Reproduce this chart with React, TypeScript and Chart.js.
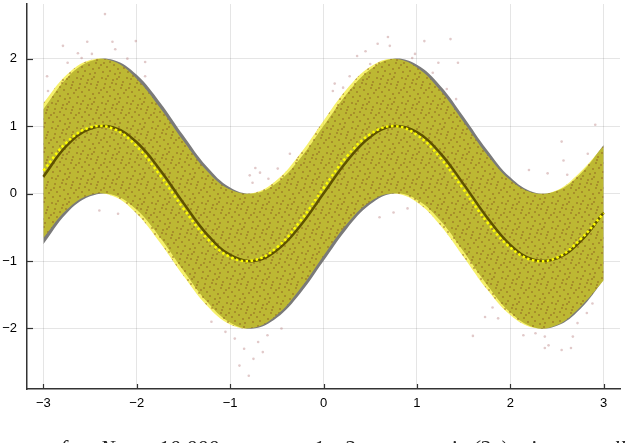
import React, { useEffect, useRef } from "react";
import { Chart, registerables } from "chart.js";
Chart.register(...registerables);

// x positions of the curve samples
const xs = [-3, -2.75, -2.5, -2.25, -2, -1.75, -1.5, -1.25, -1, -0.75, -0.5, -0.25, 0, 0.25, 0.5, 0.75, 1, 1.25, 1.5, 1.75, 2, 2.25, 2.5, 2.75, 3];

// true mean (dark line) and its ±1 band (grey)
const trueMean = [0.25, 0.71, 0.96, 0.98, 0.76, 0.35, -0.14, -0.6, -0.91, -1.0, -0.84, -0.48, 0.0, 0.48, 0.84, 1.0, 0.91, 0.6, 0.14, -0.35, -0.76, -0.98, -0.96, -0.71, -0.28];
const trueUpper = [1.25, 1.71, 1.96, 1.98, 1.76, 1.35, 0.86, 0.4, 0.09, 0.0, 0.16, 0.52, 1.0, 1.48, 1.84, 2.0, 1.91, 1.6, 1.14, 0.65, 0.24, 0.02, 0.04, 0.29, 0.72];
const trueLower = [-0.75, -0.29, -0.04, -0.02, -0.24, -0.65, -1.14, -1.6, -1.91, -2.0, -1.84, -1.48, -1.0, -0.52, -0.16, 0.0, -0.09, -0.4, -0.86, -1.35, -1.76, -1.98, -1.96, -1.71, -1.28];

// estimated mean (yellow dotted) and its band (yellow)
const estMean = [0.34, 0.76, 0.98, 0.96, 0.7, 0.27, -0.22, -0.66, -0.94, -0.99, -0.8, -0.41, 0.08, 0.55, 0.88, 1.0, 0.87, 0.53, 0.06, -0.42, -0.8, -0.99, -0.95, -0.68, -0.29];
const estUpper = [1.34, 1.76, 1.98, 1.96, 1.7, 1.27, 0.78, 0.34, 0.06, 0.01, 0.2, 0.59, 1.08, 1.55, 1.88, 2.0, 1.87, 1.53, 1.06, 0.58, 0.2, 0.01, 0.05, 0.32, 0.71];
const estLower = [-0.66, -0.24, -0.02, -0.04, -0.3, -0.73, -1.22, -1.66, -1.94, -1.99, -1.8, -1.41, -0.92, -0.45, -0.12, 0.0, -0.13, -0.47, -0.94, -1.42, -1.8, -1.99, -1.95, -1.68, -1.29];

// visible sample points outside the bands
const sampleX = [
  -2.34, -2.79, -2.53, -2.26, -2.01, -2.63, -2.59, -2.48, -2.74, -2.96, -2.95, -2.23, -2.1, -1.91, -1.91,
  0.69, 1.36, 1.08, 0.58, 0.71, 0.45, 0.36, 0.98, 0.95, 1.44, 1.23, 1.17, 0.12, 0.21, 0.1, 1.42, 1.32, 0.28, 0.5,
  -0.95, -0.85, -0.75, -0.7, -0.6, -1.05, -0.8, -0.9, -0.65, -0.45, -1.2,
  1.6, 1.73, 1.87, 1.81, 2.14, 2.27, 2.37, 2.41, 2.37, 2.55, 2.65, 2.67, 2.72, 2.82, 2.88,
  -0.73, -0.79, -0.68, -0.36, -0.49, -0.76, -0.59,
  2.91, 2.55, 2.57, 2.61, 2.83, 2.2, 2.4,
  -2.4, -2.2, 0.75, 0.9, 0.6,
];
const sampleY = [
  2.66, 2.19, 2.25, 2.25, 2.26, 2.08, 2.01, 2.07, 1.94, 1.74, 1.52, 2.14, 2.0, 1.95, 1.74,
  2.32, 2.29, 2.26, 2.22, 2.19, 2.11, 2.04, 2.07, 2.01, 1.94, 1.94, 1.79, 1.63, 1.57, 1.52, 1.4, 1.55, 1.74, 1.92,
  -2.15, -2.3, -2.45, -2.2, -2.1, -2.05, -2.7, -2.55, -2.35, -2.0, -1.9,
  -2.11, -1.83, -1.85, -1.69, -2.1, -2.07, -2.12, -2.25, -2.29, -2.32, -2.29, -2.12, -1.92, -1.77, -1.63,
  0.38, 0.27, 0.31, 0.59, 0.37, 0.16, 0.22,
  1.02, 0.77, 0.49, 0.28, 0.59, 0.35, 0.3,
  -0.25, -0.3, -0.28, -0.22, -0.35,
];

const xTicks = [-3, -2, -1, 0, 1, 2, 3];
const yTicks = [-2, -1, 0, 1, 2];

const fmt = (v: number) => (v < 0 ? "\u2212" + Math.abs(v) : String(v));
const pts = (ys: number[]) => xs.map((x, i) => ({ x, y: ys[i] }));

// speckle texture for the dense sample cloud inside the band (style only)
const speckle: [number, number][] = [
  [1, 2], [7, 0], [12, 4], [18, 1], [22, 6], [4, 8], [9, 11], [15, 8], [20, 12], [0, 14],
  [6, 16], [13, 14], [17, 18], [23, 17], [2, 21], [9, 20], [14, 23], [19, 22], [11, 7], [5, 3],
  [21, 9], [16, 3], [3, 12],
];
function makeBandPattern(): CanvasPattern | string {
  const c = document.createElement("canvas");
  c.width = 25;
  c.height = 25;
  const g = c.getContext("2d");
  if (!g) return "rgba(235,225,0,0.58)";
  g.fillStyle = "rgba(238,230,0,0.58)";
  g.fillRect(0, 0, 25, 25);
  g.fillStyle = "rgba(135,85,30,0.42)";
  speckle.forEach(([x, y]) => g.fillRect(x, y, 2, 2));
  const p = g.createPattern(c, "repeat");
  return p || "rgba(235,225,0,0.58)";
}

const innerTicks = {
  id: "innerTicks",
  afterDraw(chart: any) {
    const { ctx, chartArea: a, scales } = chart;
    ctx.save();
    ctx.strokeStyle = "#333";
    ctx.lineWidth = 1.2;
    xTicks.forEach((v) => {
      const px = Math.round(scales.x.getPixelForValue(v)) + 0.5;
      ctx.beginPath();
      ctx.moveTo(px, a.bottom);
      ctx.lineTo(px, a.bottom - 5);
      ctx.stroke();
    });
    yTicks.forEach((v) => {
      const py = Math.round(scales.y.getPixelForValue(v)) + 0.5;
      ctx.beginPath();
      ctx.moveTo(a.left, py);
      ctx.lineTo(a.left + 6, py);
      ctx.stroke();
    });
    ctx.restore();
  },
};

const caption = {
  id: "caption",
  afterDraw(chart: any) {
    const ctx = chart.ctx;
    ctx.save();
    ctx.fillStyle = "#222";
    ctx.font = "italic 22px 'Liberation Serif'";
    ctx.textBaseline = "alphabetic";
    const parts: [number, string][] = [
      [60, "for"], [100, "N ="], [158, "10,000"], [250, "over a"], [313, "1"], [328, "or"],
      [344, "2"], [372, "arms, so"], [442, "si"], [472, "(2x)"], [530, "is a"], [578, "small"],
    ];
    parts.forEach(([x, t]) => ctx.fillText(t, x, 455));
    ctx.restore();
  },
};

export default function App() {
  const ref = useRef<HTMLCanvasElement>(null);
  useEffect(() => {
    document.body.style.margin = "0";
    const bandFill = makeBandPattern();
    const chart = new Chart(ref.current!, {
      type: "line",
      data: {
        datasets: [
          { data: pts(trueUpper), fill: "+1", backgroundColor: "#7a7a7a", borderWidth: 0, pointRadius: 0, tension: 0.4, order: 10 } as any,
          { data: pts(trueLower), fill: false, borderWidth: 0, pointRadius: 0, tension: 0.4, order: 9 },
          { data: pts(estUpper), fill: "+1", backgroundColor: bandFill, borderWidth: 0, pointRadius: 0, tension: 0.4, order: 8 },
          { data: pts(estLower), fill: false, borderWidth: 0, pointRadius: 0, tension: 0.4, order: 7 },
          {
            type: "scatter",
            data: sampleX.map((x, i) => ({ x, y: sampleY[i] })),
            backgroundColor: "rgba(170,100,100,0.35)",
            borderWidth: 0,
            pointRadius: 1.3,
            order: 6,
          } as any,
          { data: pts(trueMean), fill: false, borderColor: "#5f5200", borderWidth: 2.5, pointRadius: 0, tension: 0.4, order: 5 },
          { data: pts(estMean), fill: false, borderColor: "#ffff00", borderWidth: 2.5, borderDash: [2.5, 2.5], pointRadius: 0, tension: 0.4, order: 4 },
        ],
      },
      options: {
        animation: false,
        responsive: false,
        maintainAspectRatio: false,
        layout: { padding: { top: 3, right: 20, left: 0, bottom: 0 } },
        plugins: { legend: { display: false }, tooltip: { enabled: false } },
        scales: {
          x: {
            type: "linear",
            min: -3.175,
            max: 3.175,
            afterBuildTicks: (s: any) => {
              s.ticks = xTicks.map((v) => ({ value: v }));
            },
            afterFit: (s: any) => {
              s.height = 54;
              s.paddingLeft = 0;
              s.paddingRight = 0;
            },
            grid: { color: "rgba(0,0,0,0.1)", lineWidth: 1, drawTicks: false },
            border: { color: "#333", width: 1.5 },
            ticks: {
              padding: 7,
              color: "#000",
              autoSkip: false,
              maxRotation: 0,
              font: { family: "'Liberation Sans', Arial, sans-serif", size: 13 },
              callback: (v: any) => fmt(Number(v)),
            },
          },
          y: {
            type: "linear",
            min: -2.897,
            max: 2.81,
            afterBuildTicks: (s: any) => {
              s.ticks = yTicks.map((v) => ({ value: v }));
            },
            afterFit: (s: any) => {
              s.width = 27;
              s.paddingTop = 0;
              s.paddingBottom = 0;
            },
            grid: { color: "rgba(0,0,0,0.1)", lineWidth: 1, drawTicks: false },
            border: { color: "#333", width: 1.5 },
            ticks: {
              padding: 10,
              color: "#000",
              autoSkip: false,
              font: { family: "'Liberation Sans', Arial, sans-serif", size: 13 },
              callback: (v: any) => fmt(Number(v)),
            },
          },
        },
      },
      plugins: [innerTicks, caption],
    });
    return () => chart.destroy();
  }, []);
  return (
    <div style={{ position: "relative", width: 640, height: 443, overflow: "hidden" }}>
      <canvas ref={ref} width={640} height={443} style={{ display: "block", width: 640, height: 443 }} />
    </div>
  );
}
